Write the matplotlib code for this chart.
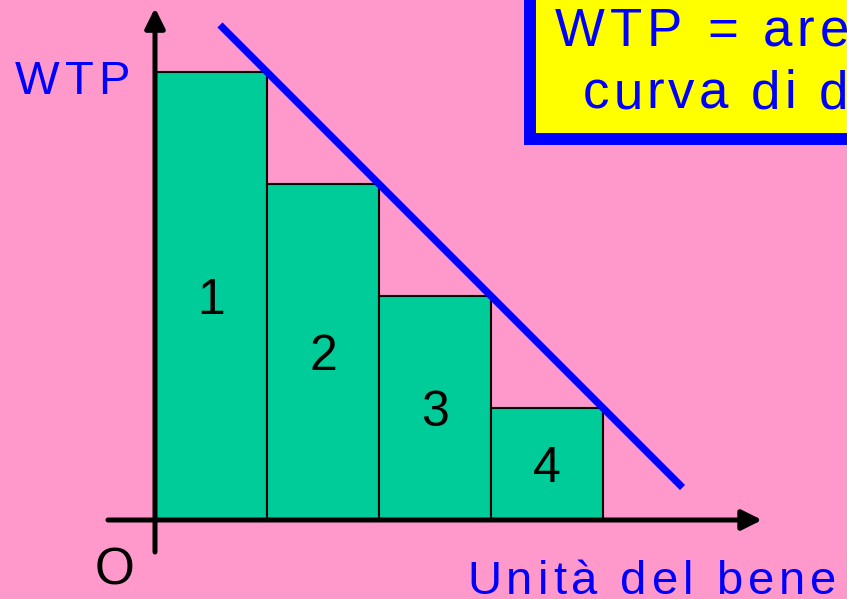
import matplotlib.pyplot as plt
import matplotlib as mpl
from matplotlib.patches import Rectangle

mpl.rcParams['font.family'] = ['Liberation Sans', 'DejaVu Sans']

PINK = '#FF99CC'; GREEN = '#00CC99'; BLUE = '#0000FF'; YELLOW = '#FFFF00'
PX = 112.0  # pixels per data unit (both axes)

# data: willingness to pay for each successive unit
units = [0, 1, 2, 3]
wtp = [4, 3, 2, 1]
unit_labels = ['1', '2', '3', '4']
# demand curve end points
demand_x = [0.58, 4.71]
demand_y = [4.42, 0.29]

fig = plt.figure(figsize=(8.47, 5.99), dpi=100, facecolor=PINK)
ax = fig.add_axes([0, 0, 1, 1])
ax.set_facecolor(PINK)
ax.set_xlim(-155/PX, (847-155)/PX)
ax.set_ylim(-(599-520)/PX, 520/PX)
ax.axis('off')
rend = fig.canvas.get_renderer()


def _w(txt, size):
    t = ax.text(0, 0, txt, fontsize=size)
    e = t.get_window_extent(rend).width
    t.remove()
    return e


def spaced_text(x, y, s, size, color, track=0.0, zorder=3):
    # draw text char by char with extra letter spacing (track, in px)
    base = _w('||', size)
    off = 0.0
    for c in s:
        if c != ' ':
            ax.text(x + off/PX, y, c, fontsize=size, color=color, ha='left', va='baseline', zorder=zorder)
        off += _w('|' + c + '|', size) - base + track


ax.bar(units, wtp, width=1, align='edge', color=GREEN, edgecolor='black', linewidth=1.5, zorder=2)
for x, h, lab in zip(units, wtp, unit_labels):
    ax.text(x+0.5, h/2-0.16, lab, ha='center', va='baseline', fontsize=36, color='black', zorder=3)

ax.plot(demand_x, demand_y, color=BLUE, linewidth=5.2, solid_capstyle='butt', zorder=4)

# axes with arrows
arr = dict(arrowstyle='-|>', lw=3.6, color='black', mutation_scale=30, shrinkA=0, shrinkB=0)
ax.annotate('', xy=(5.42, 0), xytext=(-0.42, 0), arrowprops=arr, zorder=5)
ax.annotate('', xy=(0, 4.571), xytext=(0, -0.286), arrowprops=arr, zorder=5)

spaced_text(-140/PX, (520-94)/PX, 'WTP', 34, BLUE, track=5)
ax.text(-0.357, -0.58, 'O', ha='center', va='baseline', fontsize=37, color='black')
spaced_text((467-155)/PX, (520-594)/PX, 'Unità del bene', 34, BLUE, track=5)

# yellow note box
ax.add_patch(Rectangle((3.348, 3.402), 4, 2, facecolor=YELLOW, edgecolor=BLUE, linewidth=8.6, zorder=6))
spaced_text((555-155)/PX, (520-46)/PX, 'WTP = area sotto la', 38, BLUE, track=5, zorder=7)
spaced_text((583-155)/PX, (520-108)/PX, 'curva di domanda', 38, BLUE, track=4, zorder=7)

fig.savefig('out.png', dpi=100, facecolor=PINK)
